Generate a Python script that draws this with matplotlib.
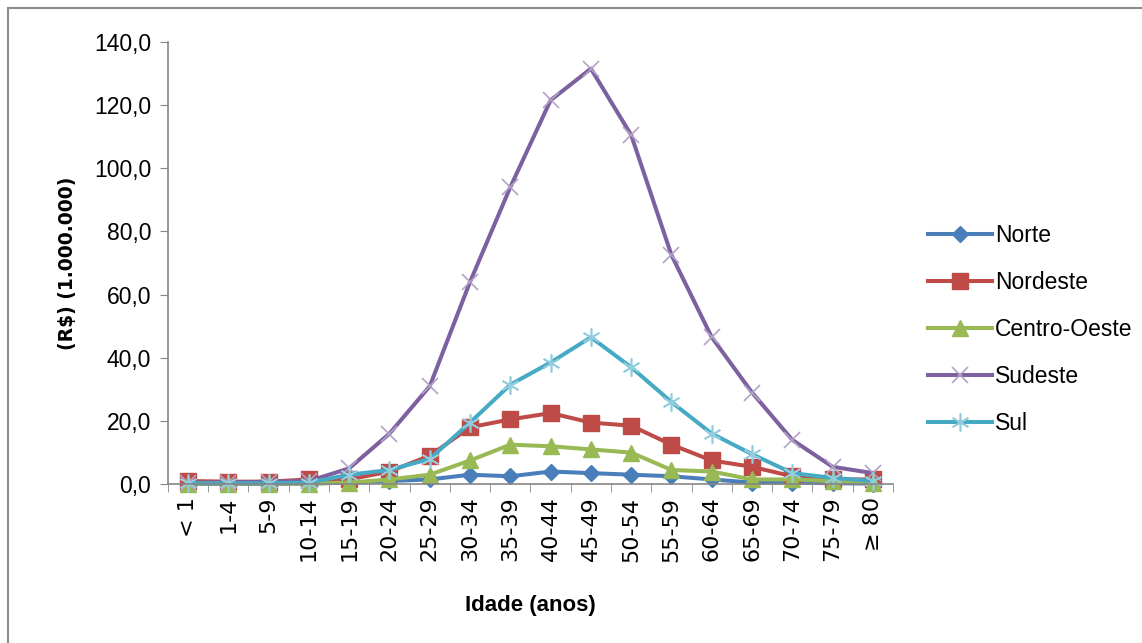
import matplotlib.pyplot as plt
from matplotlib.patches import Rectangle
from matplotlib.ticker import FuncFormatter, FixedLocator

idades = ['< 1', '1-4', '5-9', '10-14', '15-19', '20-24', '25-29', '30-34', '35-39',
          '40-44', '45-49', '50-54', '55-59', '60-64', '65-69', '70-74', '75-79', '≥ 80']

norte = [0.1, 0.1, 0.1, 0.2, 0.5, 1.0, 1.5, 3.0, 2.5, 4.0, 3.5, 3.0, 2.5, 1.5, 0.5, 0.5, 0.3, 0.2]
nordeste = [1.0, 0.8, 0.8, 1.5, 1.5, 4.0, 9.0, 18.0, 20.5, 22.5, 19.5, 18.5, 12.5, 7.5, 5.5, 2.5, 1.5, 1.5]
centro_oeste = [0.2, 0.2, 0.2, 0.2, 0.5, 1.5, 3.0, 7.5, 12.5, 12.0, 11.0, 10.0, 4.5, 4.0, 1.5, 1.5, 1.0, 0.5]
sudeste = [0.5, 0.5, 0.8, 1.0, 5.0, 16.0, 31.0, 64.0, 94.0, 121.5, 131.5, 110.5, 72.5, 46.5, 29.0, 14.0, 5.5, 3.5]
sul = [0.3, 0.3, 0.3, 0.5, 3.0, 4.5, 8.0, 19.5, 31.5, 38.5, 46.5, 37.0, 26.0, 16.0, 9.5, 3.5, 2.0, 1.0]

fig = plt.figure(figsize=(11.42, 6.43), dpi=100)
ax = fig.add_axes([0.147, 0.247, 0.635, 0.688])

x = range(len(idades))
lw = 2.9
ax.plot(x, norte, color='#4A7EBB', lw=lw, marker='D', ms=8, label='Norte')
ax.plot(x, nordeste, color='#BE4B48', lw=lw, marker='s', ms=11, label='Nordeste')
ax.plot(x, centro_oeste, color='#98B954', lw=lw, marker='^', ms=11, label='Centro-Oeste')
ax.plot(x, sudeste, color='#7D60A0', lw=lw, marker='x', ms=12, mew=1.2,
        mec='#B3A2C7', label='Sudeste')
ax.plot(x, sul, color='#46AAC5', lw=lw, marker=(6, 2, 0), ms=13, mew=1.2,
        mec='#93CDDD', label='Sul')

ax.set_xlim(-0.5, len(idades) - 0.5)
ax.set_ylim(0, 140)
ax.set_yticks(range(0, 141, 20))
ax.yaxis.set_major_formatter(FuncFormatter(lambda v, p: f'{v:.1f}'.replace('.', ',')))
ax.set_xticks(list(x))
ax.set_xticklabels(idades, rotation=90, fontsize=16, family='DejaVu Sans')
ax.xaxis.set_minor_locator(FixedLocator([i - 0.5 for i in range(len(idades) + 1)]))
ax.tick_params(axis='x', which='major', length=0, pad=9)
ax.tick_params(axis='x', which='minor', length=6, color='#868686')
ax.tick_params(axis='y', length=6, color='#868686', labelsize=16.5, pad=6)
for t in ax.get_yticklabels():
    t.set_family('Liberation Sans')

for s in ['top', 'right']:
    ax.spines[s].set_visible(False)
for s in ['left', 'bottom']:
    ax.spines[s].set_color('#868686')
    ax.spines[s].set_linewidth(1.2)
for line in ax.get_lines():
    line.set_clip_on(False)

ax.set_ylabel('(R$) (1.000.000)', fontsize=13.5, fontweight='bold', labelpad=12)
ax.set_xlabel('Idade (anos)', fontsize=16, fontweight='bold', family='Liberation Sans',
              labelpad=24)

leg = ax.legend(loc='center left', bbox_to_anchor=(1.02, 0.35), frameon=False,
                handlelength=2.8, handletextpad=0.1, labelspacing=1.05,
                prop={'family': 'Liberation Sans', 'size': 16.5})

fig.patches.append(Rectangle((0.007, -0.01), 1.0, 0.997, transform=fig.transFigure,
                             fill=False, edgecolor='#8c8c8c', lw=1.5))

fig.savefig('out.png', dpi=100)
